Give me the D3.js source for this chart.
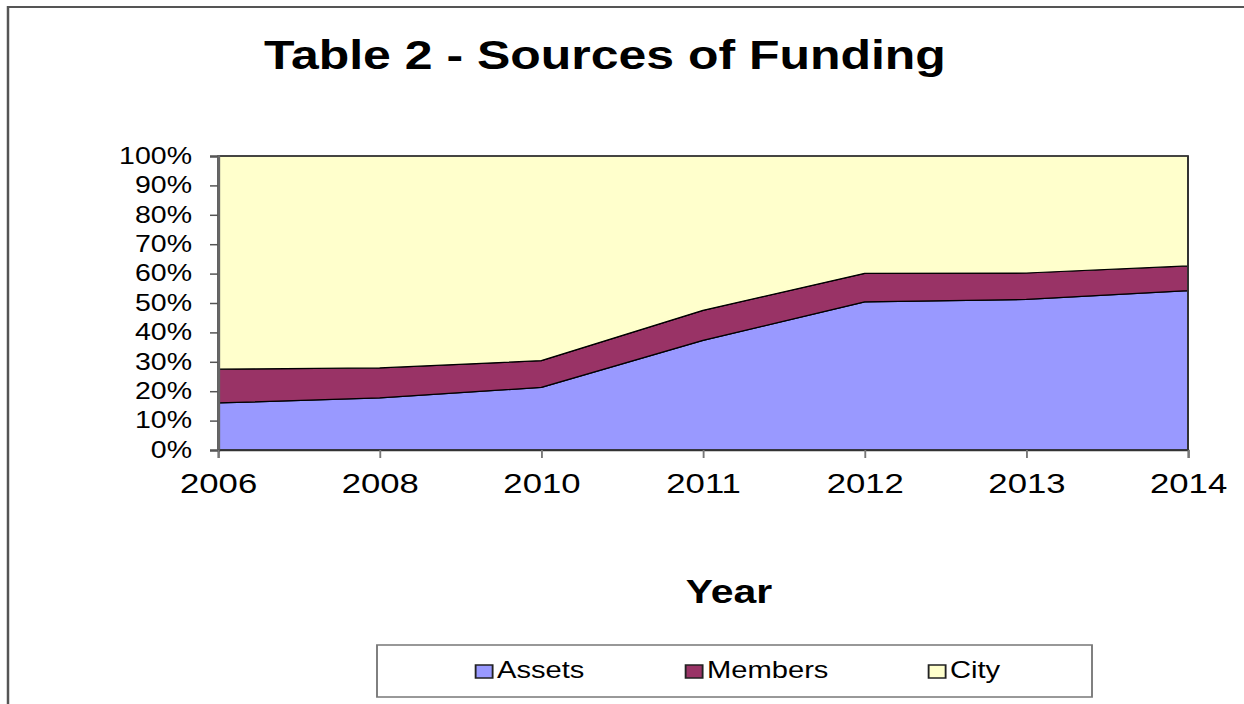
<!DOCTYPE html>
<html>
<head>
<meta charset="utf-8">
<script src="https://cdn.jsdelivr.net/npm/d3@7"></script>
<style>
  body { margin: 0; background: #fff; }
  text { font-family: "Liberation Sans", Arial, sans-serif; fill: #000; }
</style>
</head>
<body>
<svg id="chart"></svg>
<script>
// data (percent of total)
const years = ['2006', '2008', '2010', '2011', '2012', '2013', '2014'];
const assets = [16.0, 17.7, 21.3, 37.3, 50.4, 51.2, 54.2];
const members = [11.5, 10.2, 9.1, 10.2, 9.7, 9.0, 8.4];
const city = [72.5, 72.1, 69.6, 52.5, 39.9, 39.8, 37.4];
const yTicks = [0, 10, 20, 30, 40, 50, 60, 70, 80, 90, 100];
const seriesNames = ['Assets', 'Members', 'City'];
const colors = ['#9999FF', '#993366', '#FFFFCC'];

// the original picture is stretched sideways, so draw in a narrower box and stretch it
const S = 1.24;
const width = 1244 / S;
const height = 704;
const px = v => v / S;

const svg = d3.select('#chart')
    .attr('width', 1244)
    .attr('height', height)
    .attr('viewBox', `0 0 ${width} ${height}`)
    .attr('preserveAspectRatio', 'none');

const plot = {left: px(218), right: px(1188), top: 156, bottom: 450};

// outer frame
svg.append('path')
    .attr('d', `M${px(8)},${height + 5}V7H${width + 5}`)
    .attr('fill', 'none')
    .attr('stroke', '#555')
    .attr('stroke-width', 2);

svg.append('text')
    .attr('x', px(605))
    .attr('y', 69)
    .attr('text-anchor', 'middle')
    .attr('font-size', 40.3)
    .attr('font-weight', 'bold')
    .text('Table 2 - Sources of Funding');

const x = d3.scalePoint().domain(years).range([plot.left, plot.right]);
const y = d3.scaleLinear().domain([0, 100]).range([plot.bottom, plot.top]);

const rows = years.map((yr, i) => ({year: yr, Assets: assets[i], Members: members[i], City: city[i]}));
const stack = d3.stack().keys(seriesNames);
const layers = stack(rows);

const area = d3.area()
    .x(d => x(d.data.year))
    .y0(d => y(d[0]))
    .y1(d => y(d[1]));

svg.append('g')
    .selectAll('path')
    .data(layers)
    .join('path')
    .attr('d', area)
    .attr('fill', (d, i) => colors[i])
    .attr('stroke', '#000')
    .attr('stroke-width', 1.2)
    .attr('stroke-linejoin', 'round');

// plot frame
svg.append('rect')
    .attr('x', plot.left)
    .attr('y', plot.top)
    .attr('width', plot.right - plot.left)
    .attr('height', plot.bottom - plot.top)
    .attr('fill', 'none')
    .attr('stroke', '#333')
    .attr('stroke-width', 1.5);

const yAxis = svg.append('g')
    .attr('transform', `translate(${plot.left},0)`)
    .call(d3.axisLeft(y).tickValues(yTicks).tickFormat(d => d + '%').tickSize(px(8)).tickPadding(px(18)));
yAxis.select('.domain').attr('stroke', '#666').attr('stroke-width', 2.5);
yAxis.selectAll('.tick line').attr('stroke', '#555').attr('stroke-width', 1.5);
yAxis.selectAll('text')
    .attr('font-size', 23)
    .attr('font-family', '"Liberation Sans", Arial, sans-serif')
    .attr('fill', '#000');

const xAxis = svg.append('g')
    .attr('transform', `translate(0,${plot.bottom})`)
    .call(d3.axisBottom(x).tickSize(8).tickPadding(15));
xAxis.select('.domain').attr('stroke', '#333').attr('stroke-width', 1.5);
xAxis.selectAll('.tick line').attr('stroke', '#777').attr('stroke-width', 1.5);
xAxis.selectAll('text')
    .attr('font-size', 28)
    .attr('font-family', '"Liberation Sans", Arial, sans-serif')
    .attr('fill', '#000');

svg.append('text')
    .attr('x', px(729))
    .attr('y', 603)
    .attr('text-anchor', 'middle')
    .attr('font-size', 33)
    .attr('font-weight', 'bold')
    .text('Year');

// legend
const legend = svg.append('g');
legend.append('rect')
    .attr('x', px(377))
    .attr('y', 645)
    .attr('width', px(1092 - 377))
    .attr('height', 52)
    .attr('fill', '#fff')
    .attr('stroke', '#777')
    .attr('stroke-width', 1.5);

const legendX = [475, 685, 928];
const items = legend.selectAll('g.item')
    .data(seriesNames)
    .join('g')
    .attr('class', 'item')
    .attr('transform', (d, i) => `translate(${px(legendX[i])},0)`);
items.append('rect')
    .attr('x', 0.5)
    .attr('y', 665)
    .attr('width', px(17))
    .attr('height', 13)
    .attr('fill', (d, i) => colors[i])
    .attr('stroke', '#222')
    .attr('stroke-width', 1.5);
items.append('text')
    .attr('x', px(22))
    .attr('y', 678.5)
    .attr('font-size', 23.5)
    .text(d => d);
</script>
</body>
</html>
